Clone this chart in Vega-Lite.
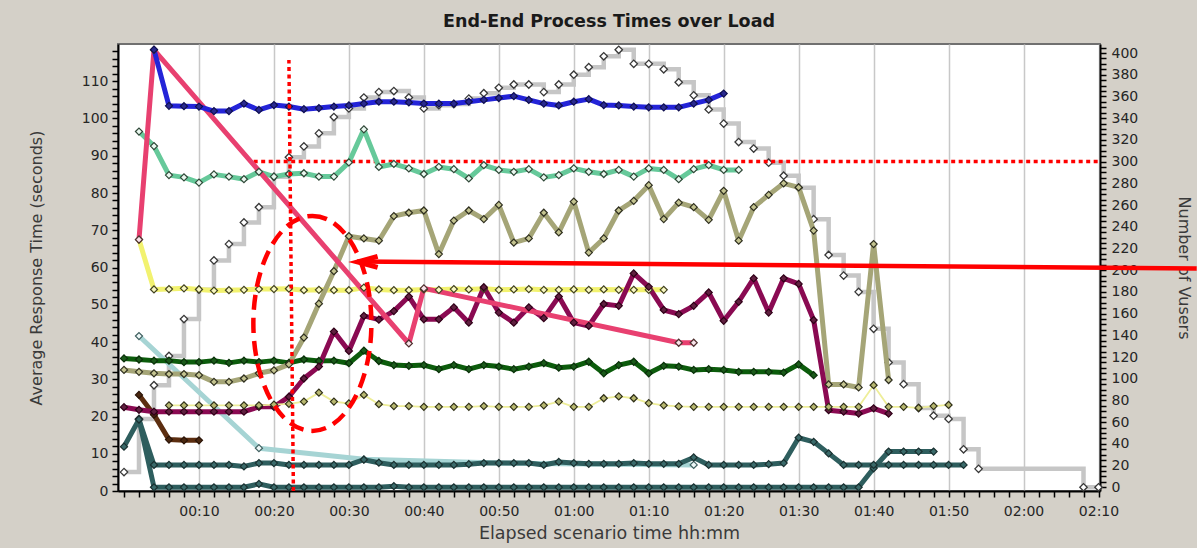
{
  "$schema": "https://vega.github.io/schema/vega-lite/v6.json",
  "width": 982,
  "height": 447,
  "autosize": {"type": "none"},
  "padding": {"left": 118, "top": 44, "right": 97, "bottom": 57},
  "background": "#d4d0c8",
  "config": {
    "view": {"fill": "#ffffff", "stroke": "#707070", "strokeWidth": 2},
    "axis": {
      "labelFont": "DejaVu Sans", "labelFontSize": 14, "labelColor": "#262626",
      "titleFont": "DejaVu Sans", "titleFontSize": 16, "titleFontWeight": "normal", "titleColor": "#3a3a3a",
      "domainColor": "#000000", "domainWidth": 2, "tickColor": "#000000", "tickWidth": 1.5
    }
  },
  "title": {"text": "End-End Process Times over Load", "font": "DejaVu Sans", "fontSize": 17.5, "fontWeight": "bold", "color": "#1a1a1a", "anchor": "middle", "offset": 10},
  "datasets": {
    "vusers": [
      {"t":0,"v":14},{"t":2,"v":63},{"t":4,"v":94},{"t":6,"v":121},{"t":8,"v":155},{"t":10,"v":182},{"t":12,"v":209},{"t":14,"v":224},{"t":16,"v":244},{"t":18,"v":258},{"t":20,"v":286},{"t":22,"v":304},{"t":24,"v":314},{"t":26,"v":326},{"t":28,"v":341},{"t":30,"v":349},{"t":32,"v":359},{"t":34,"v":364},{"t":36,"v":365},{"t":38,"v":359},{"t":40,"v":349},{"t":42,"v":352},{"t":44,"v":353},{"t":46,"v":358},{"t":48,"v":363},{"t":50,"v":368},{"t":52,"v":371},{"t":54,"v":371},{"t":56,"v":364},{"t":58,"v":371},{"t":60,"v":380},{"t":62,"v":387},{"t":64,"v":397},{"t":66,"v":403},{"t":68,"v":390},{"t":70,"v":390},{"t":72,"v":385},{"t":74,"v":373},{"t":76,"v":361},{"t":78,"v":348},{"t":80,"v":335},{"t":82,"v":318},{"t":84,"v":312},{"t":86,"v":299},{"t":88,"v":287},{"t":90,"v":276},{"t":92,"v":247},{"t":94,"v":214},{"t":96,"v":195},{"t":98,"v":180},{"t":100,"v":146},{"t":102,"v":115},{"t":104,"v":95},{"t":106,"v":73},{"t":108,"v":66},{"t":110,"v":63},{"t":112,"v":35},{"t":114,"v":17},{"t":128,"v":0},{"t":130,"v":0}
    ],
    "resp": [
      {"s":"J","t":2,"v":41.6},{"s":"J","t":18,"v":11.5},{"s":"J","t":32,"v":8.5},{"s":"J","t":50,"v":7.5},{"s":"J","t":76,"v":7.0},
      {"s":"L","t":2,"v":19.2},{"s":"L","t":4,"v":1},{"s":"L","t":6,"v":1},{"s":"L","t":8,"v":1},{"s":"L","t":10,"v":1},{"s":"L","t":12,"v":1},{"s":"L","t":14,"v":1},{"s":"L","t":16,"v":1},{"s":"L","t":18,"v":1.9},{"s":"L","t":20,"v":1},{"s":"L","t":22,"v":1},{"s":"L","t":24,"v":1},{"s":"L","t":26,"v":1},{"s":"L","t":28,"v":1},{"s":"L","t":30,"v":1},{"s":"L","t":32,"v":1},{"s":"L","t":34,"v":1},{"s":"L","t":36,"v":1.3},{"s":"L","t":38,"v":1},{"s":"L","t":40,"v":1},{"s":"L","t":42,"v":1},{"s":"L","t":44,"v":1},{"s":"L","t":46,"v":1},{"s":"L","t":48,"v":1},{"s":"L","t":50,"v":1},{"s":"L","t":52,"v":1},{"s":"L","t":54,"v":1},{"s":"L","t":56,"v":1},{"s":"L","t":58,"v":1},{"s":"L","t":60,"v":1},{"s":"L","t":62,"v":1},{"s":"L","t":64,"v":1},{"s":"L","t":66,"v":1},{"s":"L","t":68,"v":1},{"s":"L","t":70,"v":1},{"s":"L","t":72,"v":1},{"s":"L","t":74,"v":1},{"s":"L","t":76,"v":1},{"s":"L","t":78,"v":1},{"s":"L","t":80,"v":1},{"s":"L","t":82,"v":1},{"s":"L","t":84,"v":1},{"s":"L","t":86,"v":1},{"s":"L","t":88,"v":1},{"s":"L","t":90,"v":1},{"s":"L","t":92,"v":1},{"s":"L","t":94,"v":1},{"s":"L","t":96,"v":1},{"s":"L","t":98,"v":1},{"s":"L","t":100,"v":6.1},{"s":"L","t":102,"v":10.6},{"s":"L","t":104,"v":10.6},{"s":"L","t":106,"v":10.6},{"s":"L","t":108,"v":10.6},
      {"s":"K","t":0,"v":11.9},{"s":"K","t":2,"v":19.2},{"s":"K","t":4,"v":7},{"s":"K","t":6,"v":7},{"s":"K","t":8,"v":7},{"s":"K","t":10,"v":7},{"s":"K","t":12,"v":7},{"s":"K","t":14,"v":7},{"s":"K","t":16,"v":6.6},{"s":"K","t":18,"v":7.5},{"s":"K","t":20,"v":7.5},{"s":"K","t":22,"v":7},{"s":"K","t":24,"v":7},{"s":"K","t":26,"v":7},{"s":"K","t":28,"v":7},{"s":"K","t":30,"v":7},{"s":"K","t":32,"v":8.4},{"s":"K","t":34,"v":7.6},{"s":"K","t":36,"v":7},{"s":"K","t":38,"v":7},{"s":"K","t":40,"v":7},{"s":"K","t":42,"v":7},{"s":"K","t":44,"v":7},{"s":"K","t":46,"v":7.2},{"s":"K","t":48,"v":7.5},{"s":"K","t":50,"v":7.5},{"s":"K","t":52,"v":7.5},{"s":"K","t":54,"v":7.5},{"s":"K","t":56,"v":7},{"s":"K","t":58,"v":7.8},{"s":"K","t":60,"v":7.5},{"s":"K","t":62,"v":7.3},{"s":"K","t":64,"v":7.3},{"s":"K","t":66,"v":7.3},{"s":"K","t":68,"v":7.5},{"s":"K","t":70,"v":7.3},{"s":"K","t":72,"v":7.3},{"s":"K","t":74,"v":7.3},{"s":"K","t":76,"v":9},{"s":"K","t":78,"v":7},{"s":"K","t":80,"v":7},{"s":"K","t":82,"v":7},{"s":"K","t":84,"v":7},{"s":"K","t":86,"v":7.2},{"s":"K","t":88,"v":7.5},{"s":"K","t":90,"v":14.3},{"s":"K","t":92,"v":13.2},{"s":"K","t":94,"v":10.1},{"s":"K","t":96,"v":7},{"s":"K","t":98,"v":7},{"s":"K","t":100,"v":7},{"s":"K","t":102,"v":7},{"s":"K","t":104,"v":7},{"s":"K","t":106,"v":7},{"s":"K","t":108,"v":7},{"s":"K","t":110,"v":7},{"s":"K","t":112,"v":7},
      {"s":"BR","t":2,"v":25.8},{"s":"BR","t":4,"v":20.5},{"s":"BR","t":6,"v":13.8},{"s":"BR","t":8,"v":13.6},{"s":"BR","t":10,"v":13.6},
      {"s":"Y","t":2,"v":67.5},{"s":"Y","t":4,"v":54.1},{"s":"Y","t":6,"v":54.2},{"s":"Y","t":8,"v":54.4},{"s":"Y","t":10,"v":54.1},{"s":"Y","t":12,"v":53.8},{"s":"Y","t":14,"v":53.9},{"s":"Y","t":16,"v":54},{"s":"Y","t":18,"v":54.2},{"s":"Y","t":20,"v":54.2},{"s":"Y","t":22,"v":54.3},{"s":"Y","t":24,"v":53.9},{"s":"Y","t":26,"v":54},{"s":"Y","t":28,"v":53.9},{"s":"Y","t":30,"v":53.9},{"s":"Y","t":32,"v":54.6},{"s":"Y","t":34,"v":54.1},{"s":"Y","t":36,"v":53.9},{"s":"Y","t":38,"v":53.9},{"s":"Y","t":40,"v":54.1},{"s":"Y","t":42,"v":54},{"s":"Y","t":44,"v":54.2},{"s":"Y","t":46,"v":54.1},{"s":"Y","t":48,"v":54.3},{"s":"Y","t":50,"v":54},{"s":"Y","t":52,"v":54.1},{"s":"Y","t":54,"v":54.2},{"s":"Y","t":56,"v":54},{"s":"Y","t":58,"v":54},{"s":"Y","t":60,"v":54.1},{"s":"Y","t":62,"v":54},{"s":"Y","t":64,"v":54.1},{"s":"Y","t":66,"v":54},{"s":"Y","t":68,"v":54},{"s":"Y","t":70,"v":54},{"s":"Y","t":72,"v":54},
      {"s":"DG","t":0,"v":35.6},{"s":"DG","t":2,"v":35.3},{"s":"DG","t":4,"v":35},{"s":"DG","t":6,"v":35},{"s":"DG","t":8,"v":34.6},{"s":"DG","t":10,"v":34.6},{"s":"DG","t":12,"v":35},{"s":"DG","t":14,"v":34.4},{"s":"DG","t":16,"v":35},{"s":"DG","t":18,"v":34.6},{"s":"DG","t":20,"v":35},{"s":"DG","t":22,"v":34.4},{"s":"DG","t":24,"v":35.3},{"s":"DG","t":26,"v":34.9},{"s":"DG","t":28,"v":35},{"s":"DG","t":30,"v":34.3},{"s":"DG","t":32,"v":37.7},{"s":"DG","t":34,"v":34.9},{"s":"DG","t":36,"v":33.8},{"s":"DG","t":38,"v":33.6},{"s":"DG","t":40,"v":33.8},{"s":"DG","t":42,"v":32.7},{"s":"DG","t":44,"v":33.8},{"s":"DG","t":46,"v":32.7},{"s":"DG","t":48,"v":33.8},{"s":"DG","t":50,"v":33.4},{"s":"DG","t":52,"v":32.7},{"s":"DG","t":54,"v":33.4},{"s":"DG","t":56,"v":34.3},{"s":"DG","t":58,"v":33.1},{"s":"DG","t":60,"v":33.4},{"s":"DG","t":62,"v":34.7},{"s":"DG","t":64,"v":31.6},{"s":"DG","t":66,"v":33.8},{"s":"DG","t":68,"v":34.7},{"s":"DG","t":70,"v":31.6},{"s":"DG","t":72,"v":33.6},{"s":"DG","t":74,"v":33.4},{"s":"DG","t":76,"v":32.5},{"s":"DG","t":78,"v":32.7},{"s":"DG","t":80,"v":32.5},{"s":"DG","t":82,"v":32},{"s":"DG","t":84,"v":32},{"s":"DG","t":86,"v":32},{"s":"DG","t":88,"v":31.8},{"s":"DG","t":90,"v":34},{"s":"DG","t":92,"v":31.1},
      {"s":"OL","t":0,"v":32.5},{"s":"OL","t":2,"v":32},{"s":"OL","t":4,"v":31.6},{"s":"OL","t":6,"v":31.4},{"s":"OL","t":8,"v":31.4},{"s":"OL","t":10,"v":31.1},{"s":"OL","t":12,"v":29.3},{"s":"OL","t":14,"v":29.3},{"s":"OL","t":16,"v":30.2},{"s":"OL","t":18,"v":31.6},{"s":"OL","t":20,"v":32.4},{"s":"OL","t":22,"v":34},{"s":"OL","t":24,"v":41.2},{"s":"OL","t":26,"v":50.3},{"s":"OL","t":28,"v":59},{"s":"OL","t":30,"v":68.4},{"s":"OL","t":32,"v":67.8},{"s":"OL","t":34,"v":67.2},{"s":"OL","t":36,"v":73.8},{"s":"OL","t":38,"v":74.7},{"s":"OL","t":40,"v":75.3},{"s":"OL","t":42,"v":63.6},{"s":"OL","t":44,"v":72.6},{"s":"OL","t":46,"v":75.3},{"s":"OL","t":48,"v":73},{"s":"OL","t":50,"v":76.8},{"s":"OL","t":52,"v":66.7},{"s":"OL","t":54,"v":67.8},{"s":"OL","t":56,"v":74.7},{"s":"OL","t":58,"v":69.4},{"s":"OL","t":60,"v":77.7},{"s":"OL","t":62,"v":64},{"s":"OL","t":64,"v":67.8},{"s":"OL","t":66,"v":75.3},{"s":"OL","t":68,"v":77.9},{"s":"OL","t":70,"v":82.1},{"s":"OL","t":72,"v":73},{"s":"OL","t":74,"v":77.4},{"s":"OL","t":76,"v":76.2},{"s":"OL","t":78,"v":72.8},{"s":"OL","t":80,"v":80.6},{"s":"OL","t":82,"v":67.2},{"s":"OL","t":84,"v":76.2},{"s":"OL","t":86,"v":79.5},{"s":"OL","t":88,"v":82.6},{"s":"OL","t":90,"v":81.5},{"s":"OL","t":92,"v":69.9},{"s":"OL","t":94,"v":28.6},{"s":"OL","t":96,"v":28.6},{"s":"OL","t":98,"v":27.8},{"s":"OL","t":100,"v":66.3},{"s":"OL","t":102,"v":29.8},
      {"s":"TG","t":2,"v":96.5},{"s":"TG","t":4,"v":92.6},{"s":"TG","t":6,"v":84.8},{"s":"TG","t":8,"v":84.2},{"s":"TG","t":10,"v":82.8},{"s":"TG","t":12,"v":85},{"s":"TG","t":14,"v":84.4},{"s":"TG","t":16,"v":83.7},{"s":"TG","t":18,"v":85.7},{"s":"TG","t":20,"v":84.4},{"s":"TG","t":22,"v":85.1},{"s":"TG","t":24,"v":85.3},{"s":"TG","t":26,"v":84.4},{"s":"TG","t":28,"v":84.4},{"s":"TG","t":30,"v":88.2},{"s":"TG","t":32,"v":97.1},{"s":"TG","t":34,"v":87},{"s":"TG","t":36,"v":87.8},{"s":"TG","t":38,"v":86.6},{"s":"TG","t":40,"v":85.1},{"s":"TG","t":42,"v":87},{"s":"TG","t":44,"v":86.4},{"s":"TG","t":46,"v":83.9},{"s":"TG","t":48,"v":87.5},{"s":"TG","t":50,"v":86.2},{"s":"TG","t":52,"v":85.7},{"s":"TG","t":54,"v":86.4},{"s":"TG","t":56,"v":84.2},{"s":"TG","t":58,"v":84.8},{"s":"TG","t":60,"v":86.6},{"s":"TG","t":62,"v":85.7},{"s":"TG","t":64,"v":85.1},{"s":"TG","t":66,"v":86.2},{"s":"TG","t":68,"v":84.4},{"s":"TG","t":70,"v":86.6},{"s":"TG","t":72,"v":86.2},{"s":"TG","t":74,"v":83.7},{"s":"TG","t":76,"v":86.4},{"s":"TG","t":78,"v":87.5},{"s":"TG","t":80,"v":86.2},{"s":"TG","t":82,"v":86.2},
      {"s":"MG","t":0,"v":22.5},{"s":"MG","t":2,"v":21.8},{"s":"MG","t":4,"v":21.3},{"s":"MG","t":6,"v":21.3},{"s":"MG","t":8,"v":21.3},{"s":"MG","t":10,"v":21.3},{"s":"MG","t":12,"v":21.3},{"s":"MG","t":14,"v":21.3},{"s":"MG","t":16,"v":21.3},{"s":"MG","t":18,"v":22.6},{"s":"MG","t":20,"v":22.6},{"s":"MG","t":22,"v":25.3},{"s":"MG","t":24,"v":30.2},{"s":"MG","t":26,"v":33.4},{"s":"MG","t":28,"v":42.8},{"s":"MG","t":30,"v":37.6},{"s":"MG","t":32,"v":47},{"s":"MG","t":34,"v":46},{"s":"MG","t":36,"v":48.3},{"s":"MG","t":38,"v":52.2},{"s":"MG","t":40,"v":46.1},{"s":"MG","t":42,"v":46.1},{"s":"MG","t":44,"v":49.3},{"s":"MG","t":46,"v":45.2},{"s":"MG","t":48,"v":54.7},{"s":"MG","t":50,"v":47.9},{"s":"MG","t":52,"v":45.2},{"s":"MG","t":54,"v":49.3},{"s":"MG","t":56,"v":46.4},{"s":"MG","t":58,"v":52.2},{"s":"MG","t":60,"v":45.2},{"s":"MG","t":62,"v":44.3},{"s":"MG","t":64,"v":50.2},{"s":"MG","t":66,"v":49.7},{"s":"MG","t":68,"v":58.4},{"s":"MG","t":70,"v":54.8},{"s":"MG","t":72,"v":48.6},{"s":"MG","t":74,"v":47.5},{"s":"MG","t":76,"v":49.7},{"s":"MG","t":78,"v":53.3},{"s":"MG","t":80,"v":45.7},{"s":"MG","t":82,"v":50.8},{"s":"MG","t":84,"v":57.1},{"s":"MG","t":86,"v":47.9},{"s":"MG","t":88,"v":57.1},{"s":"MG","t":90,"v":55.6},{"s":"MG","t":92,"v":45.9},{"s":"MG","t":94,"v":21.7},{"s":"MG","t":96,"v":21.3},{"s":"MG","t":98,"v":20.8},{"s":"MG","t":100,"v":22.2},{"s":"MG","t":102,"v":20.8},
      {"s":"PK","t":2,"v":67.5},{"s":"PK","t":4,"v":118.4},{"s":"PK","t":38,"v":39.6},{"s":"PK","t":40,"v":54.4},{"s":"PK","t":74,"v":39.8},{"s":"PK","t":76,"v":39.8},
      {"s":"BL","t":4,"v":118.5},{"s":"BL","t":6,"v":103.4},{"s":"BL","t":8,"v":103.3},{"s":"BL","t":10,"v":103.2},{"s":"BL","t":12,"v":102},{"s":"BL","t":14,"v":102},{"s":"BL","t":16,"v":104},{"s":"BL","t":18,"v":102.3},{"s":"BL","t":20,"v":103.6},{"s":"BL","t":22,"v":103.2},{"s":"BL","t":24,"v":102.5},{"s":"BL","t":26,"v":102.8},{"s":"BL","t":28,"v":103.2},{"s":"BL","t":30,"v":103.5},{"s":"BL","t":32,"v":104},{"s":"BL","t":34,"v":104.5},{"s":"BL","t":36,"v":104.5},{"s":"BL","t":38,"v":104.3},{"s":"BL","t":40,"v":104},{"s":"BL","t":42,"v":104},{"s":"BL","t":44,"v":104},{"s":"BL","t":46,"v":104.5},{"s":"BL","t":48,"v":105},{"s":"BL","t":50,"v":105.5},{"s":"BL","t":52,"v":106},{"s":"BL","t":54,"v":105},{"s":"BL","t":56,"v":104},{"s":"BL","t":58,"v":103.5},{"s":"BL","t":60,"v":104.5},{"s":"BL","t":62,"v":105.2},{"s":"BL","t":64,"v":103.6},{"s":"BL","t":66,"v":103.5},{"s":"BL","t":68,"v":103.2},{"s":"BL","t":70,"v":103},{"s":"BL","t":72,"v":103},{"s":"BL","t":74,"v":103},{"s":"BL","t":76,"v":104},{"s":"BL","t":78,"v":105},{"s":"BL","t":80,"v":106.7},
      {"s":"H","t":6,"v":23},{"s":"H","t":8,"v":23},{"s":"H","t":10,"v":23},{"s":"H","t":12,"v":23},{"s":"H","t":14,"v":23},{"s":"H","t":16,"v":23},{"s":"H","t":18,"v":23},{"s":"H","t":20,"v":23.2},{"s":"H","t":22,"v":23.4},{"s":"H","t":24,"v":24},{"s":"H","t":26,"v":26.4},{"s":"H","t":28,"v":24},{"s":"H","t":30,"v":23.5},{"s":"H","t":32,"v":25.8},{"s":"H","t":34,"v":23.3},{"s":"H","t":36,"v":22.8},{"s":"H","t":38,"v":22.8},{"s":"H","t":40,"v":22.6},{"s":"H","t":42,"v":22.6},{"s":"H","t":44,"v":22.6},{"s":"H","t":46,"v":22.6},{"s":"H","t":48,"v":22.8},{"s":"H","t":50,"v":22.6},{"s":"H","t":52,"v":22.6},{"s":"H","t":54,"v":22.6},{"s":"H","t":56,"v":23},{"s":"H","t":58,"v":24},{"s":"H","t":60,"v":22.6},{"s":"H","t":62,"v":22.6},{"s":"H","t":64,"v":24.9},{"s":"H","t":66,"v":25.4},{"s":"H","t":68,"v":24.9},{"s":"H","t":70,"v":23.6},{"s":"H","t":72,"v":23},{"s":"H","t":74,"v":22.7},{"s":"H","t":76,"v":22.6},{"s":"H","t":78,"v":22.6},{"s":"H","t":80,"v":22.6},{"s":"H","t":82,"v":22.6},{"s":"H","t":84,"v":22.6},{"s":"H","t":86,"v":22.6},{"s":"H","t":88,"v":22.6},{"s":"H","t":90,"v":22.6},{"s":"H","t":92,"v":22.6},{"s":"H","t":94,"v":22.6},{"s":"H","t":96,"v":22.6},{"s":"H","t":98,"v":22.6},{"s":"H","t":100,"v":28.4},{"s":"H","t":102,"v":22.6},{"s":"H","t":104,"v":22.6},{"s":"H","t":106,"v":22.3},{"s":"H","t":108,"v":22.8},{"s":"H","t":110,"v":23.1}
    ]
  },
  "encoding": {
    "x": {"field": "t", "type": "quantitative", "scale": {"domain": [-0.8, 130.2], "nice": false, "zero": false},
      "axis": {
        "title": "Elapsed scenario time hh:mm", "titleFontSize": 17.5, "titlePadding": 6,
        "values": [0,2,4,6,8,10,12,14,16,18,20,22,24,26,28,30,32,34,36,38,40,42,44,46,48,50,52,54,56,58,60,62,64,66,68,70,72,74,76,78,80,82,84,86,88,90,92,94,96,98,100,102,104,106,108,110,112,114,116,118,120,122,124,126,128,130],
        "labelExpr": "datum.value > 0 && datum.value % 10 === 0 ? (floor(datum.value / 60) < 10 ? '0' : '') + floor(datum.value / 60) + ':' + (datum.value % 60 < 10 ? '0' : '') + (datum.value % 60) : ''",
        "tickSize": 6,
        "labelPadding": 7,
        "grid": true, "gridColor": "#c8c8c8", "gridWidth": 1.5,
        "gridOpacity": {"condition": {"test": "datum.value > 0 && datum.value % 10 === 0", "value": 1}, "value": 0}
      }
    }
  },
  "layer": [
    {
      "encoding": {
        "y": {"field": "v", "type": "quantitative", "scale": {"domain": [-3.4, 408.3], "nice": false, "zero": false},
          "axis": {
            "orient": "right", "title": "Number of Vusers", "titlePadding": 38, "grid": false,
            "values": [0,5,10,15,20,25,30,35,40,45,50,55,60,65,70,75,80,85,90,95,100,105,110,115,120,125,130,135,140,145,150,155,160,165,170,175,180,185,190,195,200,205,210,215,220,225,230,235,240,245,250,255,260,265,270,275,280,285,290,295,300,305,310,315,320,325,330,335,340,345,350,355,360,365,370,375,380,385,390,395,400,405],
            "labelExpr": "datum.value % 20 === 0 ? datum.label : ''",
            "tickSize": 6,
            "labelPadding": 5
          }
        }
      },
      "layer": [
        {
          "data": {"name": "vusers"},
          "mark": {"type": "line", "interpolate": "step-after", "color": "#c6c6c6", "strokeWidth": 4.5}
        },
        {
          "data": {"name": "vusers"},
          "mark": {"type": "point", "shape": "diamond", "filled": true, "fill": "#ffffff", "stroke": "#383838", "strokeWidth": 1.3, "size": 55, "opacity": 1}
        },
        {
          "data": {"values": [{"t": 17.3, "t2": 129.9, "v": 300}]},
          "mark": {"type": "rule", "color": "#ff0000", "strokeWidth": 3.5, "strokeDash": [4, 3.5]},
          "encoding": {"x2": {"field": "t2"}}
        }
      ]
    },
    {
      "encoding": {
        "y": {"field": "v", "type": "quantitative", "scale": {"domain": [0, 120], "nice": false, "zero": false},
          "axis": {
            "orient": "left", "title": "Average Response Time (seconds)", "titlePadding": 37, "grid": false,
            "values": [0,2,4,6,8,10,12,14,16,18,20,22,24,26,28,30,32,34,36,38,40,42,44,46,48,50,52,54,56,58,60,62,64,66,68,70,72,74,76,78,80,82,84,86,88,90,92,94,96,98,100,102,104,106,108,110,112,114,116,118],
            "labelExpr": "datum.value % 10 === 0 ? datum.label : ''",
            "tickSize": 6,
            "labelPadding": 4
          }
        }
      },
      "layer": [
        {
          "data": {"name": "resp"},
          "transform": [{"filter": "datum.s !== 'H'"}],
          "mark": {"type": "line", "strokeWidth": 5, "strokeJoin": "round"},
          "encoding": {
            "color": {"field": "s", "type": "nominal", "legend": null,
              "scale": {"domain": ["J","L","K","H","BR","Y","DG","OL","TG","MG","PK","BL"],
                "range": ["#a6d4d4","#2e5e5e","#2e5e5e","#eeee99","#5c2e10","#f2f270","#0c5c0c","#a5a577","#66c99a","#8a0a52","#e84070","#2424d8"]}}
          }
        },
        {
          "data": {"name": "resp"},
          "transform": [{"filter": "datum.s === 'H'"}],
          "mark": {"type": "line", "strokeWidth": 1.8},
          "encoding": {
            "color": {"field": "s", "type": "nominal", "legend": null,
              "scale": {"domain": ["J","L","K","H","BR","Y","DG","OL","TG","MG","PK","BL"],
                "range": ["#a6d4d4","#2e5e5e","#2e5e5e","#eeee99","#5c2e10","#f2f270","#0c5c0c","#a5a577","#66c99a","#8a0a52","#e84070","#2424d8"]}}
          }
        },
        {
          "data": {"name": "resp"},
          "mark": {"type": "point", "shape": "diamond", "filled": true, "strokeWidth": 1.2, "size": 50, "opacity": 1},
          "encoding": {
            "fill": {"field": "s", "type": "nominal", "legend": null,
              "scale": {"domain": ["J","L","K","H","BR","Y","DG","OL","TG","MG","PK","BL"],
                "range": ["#eef8f8","#3a6a6a","#3a6a6a","#b8b870","#4a2810","#f8f8c0","#1a5a1a","#c4c490","#eaf8f0","#602040","#f8e4ea","#2a2a90"]}},
            "stroke": {"field": "s", "type": "nominal", "legend": null,
              "scale": {"domain": ["J","L","K","H","BR","Y","DG","OL","TG","MG","PK","BL"],
                "range": ["#406060","#1a3030","#1a3030","#303018","#2a1408","#404020","#0a300a","#303020","#304838","#300018","#503030","#101050"]}}
          }
        },
        {
          "data": {"values": [{"t": 22.6, "t2": 22.0, "v": 0, "v2": 115.7}]},
          "mark": {"type": "rule", "color": "#ff0000", "strokeWidth": 3.5, "strokeDash": [4, 3.5]},
          "encoding": {"x2": {"field": "t2"}, "y2": {"field": "v2"}}
        },
        {
          "data": {"values": [{"t": 25.13, "v": 45.0}]},
          "mark": {"type": "point", "shape": "M 0 -1 A 0.549 1 0 1 1 0 1 A 0.549 1 0 1 1 0 -1 Z", "size": 46225, "filled": false, "stroke": "#ff0000", "strokeWidth": 4.5, "strokeDash": [15, 8], "opacity": 1}
        },
        {
          "data": {"values": [{"t": 31.1, "t2": 143.1, "v": 61.6, "v2": 59.7}]},
          "mark": {"type": "rule", "color": "#ff0000", "strokeWidth": 4.5},
          "encoding": {"x2": {"field": "t2"}, "y2": {"field": "v2"}}
        },
        {
          "data": {"values": [{"t": 32.5, "v": 61.5}]},
          "mark": {"type": "point", "shape": "M 1 -0.55 L -1 0 L 1 0.55", "size": 400, "filled": false, "stroke": "#ff0000", "strokeWidth": 5, "opacity": 1}
        }
      ]
    }
  ],
  "resolve": {"scale": {"y": "independent"}, "axis": {"y": "independent"}}
}
